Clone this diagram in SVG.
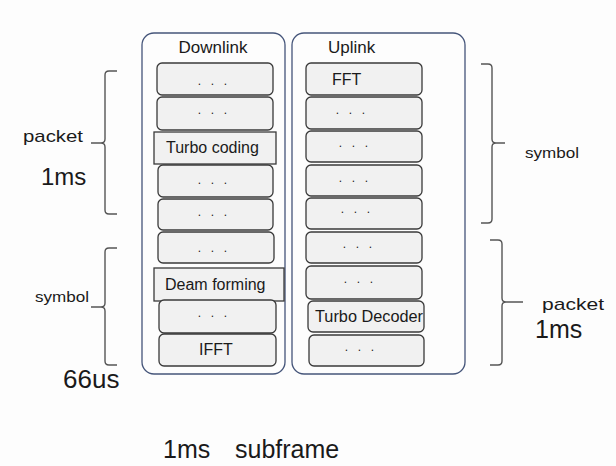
<svg xmlns="http://www.w3.org/2000/svg" width="616" height="466" viewBox="0 0 616 466">
<style>
.cont{fill:none;stroke:#45557a;stroke-width:1.3}
.box{fill:#f1f1f1;stroke:#3a3a3a;stroke-width:1.3}
.sq{fill:#f1f1f1;stroke:#3a3a3a;stroke-width:1.3}
.t{font-family:"Liberation Sans",Arial,sans-serif;fill:#1a1a1a}
.c{text-anchor:middle}
.d{font-family:"Liberation Sans",Arial,sans-serif;fill:#1a1a1a;font-size:12px;letter-spacing:3.2px;text-anchor:middle}
.brace{fill:none;stroke:#555;stroke-width:1.4}
</style>
<rect width="616" height="466" fill="#fdfdfd"/>
<g id="downlink">
<rect class="cont" x="142" y="33" width="143" height="341" rx="12"/>
<text class="t c" x="213" y="53" font-size="17">Downlink</text>
</g>
<g id="uplink">
<rect class="cont" x="292" y="33" width="173" height="341" rx="12"/>
<text class="t" x="328" y="53" font-size="17">Uplink</text>
</g>
<g id="dl1"><rect class="box" x="157" y="63" width="116" height="32" rx="5"/><text class="d" x="214" y="85">. . .</text></g>
<g id="dl2"><rect class="box" x="157" y="97" width="116" height="33" rx="5"/><text class="d" x="214" y="114">. . .</text></g>
<g id="dl3"><rect class="sq" x="154" y="132" width="122" height="32"/><text class="t" x="166" y="153" font-size="16">Turbo coding</text></g>
<g id="dl4"><rect class="box" x="158" y="165" width="115" height="32" rx="5"/><text class="d" x="214" y="184">. . .</text></g>
<g id="dl5"><rect class="box" x="158" y="199" width="115" height="31" rx="5"/><text class="d" x="214" y="216">. . .</text></g>
<g id="dl6"><rect class="box" x="158" y="232" width="116" height="31" rx="5"/><text class="d" x="214" y="252">. . .</text></g>
<g id="dl7"><rect class="sq" x="154" y="268" width="130" height="33"/><text class="t" x="165" y="290" font-size="16">Deam forming</text></g>
<g id="dl8"><rect class="box" x="159" y="300" width="117" height="33" rx="5"/><text class="d" x="214" y="317">. . .</text></g>
<g id="dl9"><rect class="box" x="159" y="334" width="117" height="32" rx="5"/><text class="t c" x="216" y="355" font-size="16">IFFT</text></g>
<g id="ul1"><rect class="box" x="306" y="63" width="116" height="32" rx="5"/><text class="t" x="332" y="85" font-size="16">FFT</text></g>
<g id="ul2"><rect class="box" x="306" y="97" width="116" height="32" rx="5"/><text class="d" x="352" y="114">. . .</text></g>
<g id="ul3"><rect class="box" x="306" y="131" width="116" height="31" rx="5"/><text class="d" x="355" y="147">. . .</text></g>
<g id="ul4"><rect class="box" x="306" y="165" width="116" height="31" rx="5"/><text class="d" x="355" y="182">. . .</text></g>
<g id="ul5"><rect class="box" x="306" y="198" width="116" height="31" rx="5"/><text class="d" x="357" y="213">. . .</text></g>
<g id="ul6"><rect class="box" x="306" y="232" width="116" height="31" rx="5"/><text class="d" x="359" y="248">. . .</text></g>
<g id="ul7"><rect class="box" x="306" y="266" width="116" height="33" rx="5"/><text class="d" x="360" y="283">. . .</text></g>
<g id="ul8"><rect class="box" x="308" y="301" width="116" height="31" rx="5"/><text class="t" x="315" y="322" font-size="16" textLength="108" lengthAdjust="spacingAndGlyphs">Turbo Decoder</text></g>
<g id="ul9"><rect class="box" x="309" y="335" width="115" height="31" rx="5"/><text class="d" x="361" y="351">. . .</text></g>
<g id="connectors">
<path class="brace" d="M117,71 H109 Q105,71 105,75 V139 Q105,143 101,143 H91 M101,143 Q105,143 105,147 V210 Q105,214 109,214 H117"/>
<path class="brace" d="M117,248 H109 Q105,248 105,252 V303 Q105,307 101,307 H91 M101,307 Q105,307 105,311 V361 Q105,365 109,365 H117"/>
<path class="brace" d="M481,64 H488 Q492,64 492,68 V139 Q492,143 496,143 H505 M496,143 Q492,143 492,147 V219 Q492,223 488,223 H481"/>
<path class="brace" d="M490,240 H498 Q502,240 502,244 V298 Q502,302 506,302 H523 M506,302 Q502,302 502,306 V361 Q502,365 498,365 H490"/>
</g>
<text class="t" x="23" y="142" font-size="17" textLength="60" lengthAdjust="spacingAndGlyphs">packet</text>
<text class="t" x="41" y="185" font-size="24">1ms</text>
<text class="t" x="35" y="302" font-size="15" textLength="54" lengthAdjust="spacingAndGlyphs">symbol</text>
<text class="t" x="63" y="388" font-size="26">66us</text>
<text class="t" x="525" y="158" font-size="15" textLength="54" lengthAdjust="spacingAndGlyphs">symbol</text>
<text class="t" x="542" y="310" font-size="17" textLength="62" lengthAdjust="spacingAndGlyphs">packet</text>
<text class="t" x="535" y="338" font-size="25">1ms</text>
<text class="t" x="163" y="458" font-size="25">1ms<tspan x="235">subframe</tspan></text>
</svg>
